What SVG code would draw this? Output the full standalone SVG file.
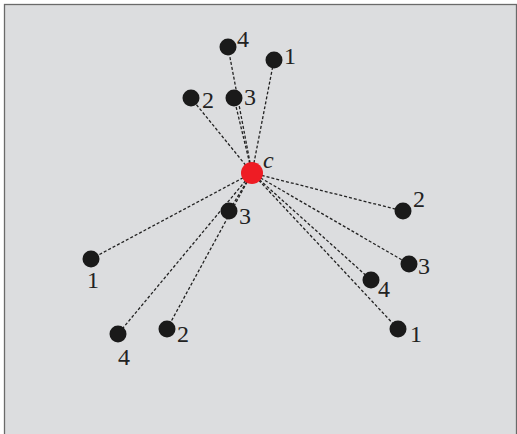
<svg xmlns="http://www.w3.org/2000/svg" width="517" height="434" viewBox="0 0 517 434">
<style>
.e{stroke:#222;stroke-width:1.3;stroke-dasharray:3 2;fill:none}
.n{fill:#1a1a1a}
.t{font-family:"Liberation Serif",serif;font-size:24px;fill:#222}
</style>
<rect x="0" y="0" width="517" height="434" fill="#fff"/>
<rect x="4.5" y="4.5" width="512" height="440" fill="#dcdddf" stroke="#6a6a6a" stroke-width="1.3"/>
<g id="connectors">
<line class="e" x1="252" y1="173" x2="228" y2="47"/>
<line class="e" x1="252" y1="173" x2="274" y2="60"/>
<line class="e" x1="252" y1="173" x2="191" y2="98"/>
<line class="e" x1="252" y1="173" x2="234" y2="98"/>
<line class="e" x1="252" y1="173" x2="229" y2="211"/>
<line class="e" x1="252" y1="173" x2="91" y2="259"/>
<line class="e" x1="252" y1="173" x2="118" y2="334"/>
<line class="e" x1="252" y1="173" x2="167" y2="329"/>
<line class="e" x1="252" y1="173" x2="403" y2="211"/>
<line class="e" x1="252" y1="173" x2="409" y2="264"/>
<line class="e" x1="252" y1="173" x2="371" y2="280"/>
<line class="e" x1="252" y1="173" x2="398" y2="329"/>
</g>
<g id="node-c"><circle cx="252" cy="173" r="11" fill="#ee1c24"/><text class="t" x="263" y="168" font-style="italic">c</text></g>
<g id="node-t4"><circle class="n" cx="228" cy="47" r="8.5"/><text class="t" x="237" y="47">4</text></g>
<g id="node-t1"><circle class="n" cx="274" cy="60" r="8.5"/><text class="t" x="284" y="64">1</text></g>
<g id="node-t2"><circle class="n" cx="191" cy="98" r="8.5"/><text class="t" x="202" y="108">2</text></g>
<g id="node-t3"><circle class="n" cx="234" cy="98" r="8.5"/><text class="t" x="244" y="105">3</text></g>
<g id="node-l3"><circle class="n" cx="229" cy="211" r="8.5"/><text class="t" x="239" y="224">3</text></g>
<g id="node-l1"><circle class="n" cx="91" cy="259" r="8.5"/><text class="t" x="87" y="288">1</text></g>
<g id="node-l4"><circle class="n" cx="118" cy="334" r="8.5"/><text class="t" x="118" y="365">4</text></g>
<g id="node-l2"><circle class="n" cx="167" cy="329" r="8.5"/><text class="t" x="177" y="342">2</text></g>
<g id="node-r2"><circle class="n" cx="403" cy="211" r="8.5"/><text class="t" x="413" y="207">2</text></g>
<g id="node-r3"><circle class="n" cx="409" cy="264" r="8.5"/><text class="t" x="418" y="274">3</text></g>
<g id="node-r4"><circle class="n" cx="371" cy="280" r="8.5"/><text class="t" x="378" y="297">4</text></g>
<g id="node-r1"><circle class="n" cx="398" cy="329" r="8.5"/><text class="t" x="410" y="342">1</text></g>
</svg>
